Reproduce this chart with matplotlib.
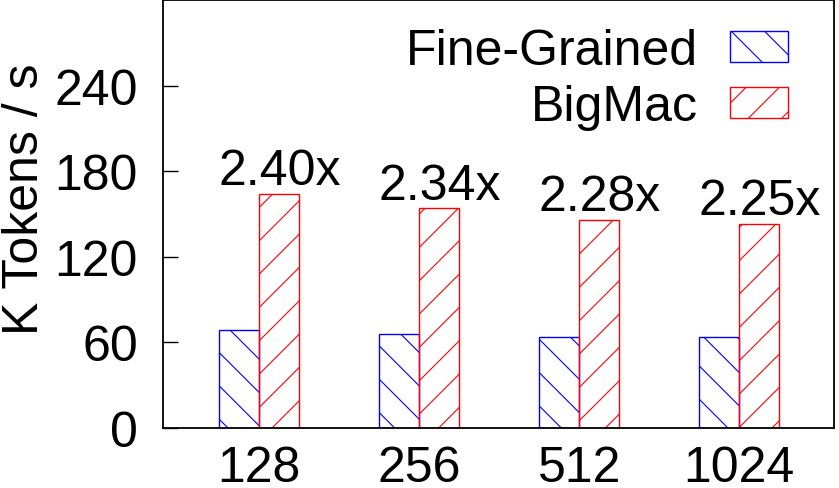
import matplotlib
matplotlib.use('Agg')
import matplotlib.pyplot as plt
import numpy as np

plt.rcParams['font.family'] = ['Liberation Sans', 'DejaVu Sans']
plt.rcParams['hatch.linewidth'] = 0.8

# data
batch_sizes = ['128', '256', '512', '1024']
fine_grained = [68.6, 65.8, 64.0, 63.6]
bigmac = [164.2, 153.9, 145.7, 143.1]
speedups = ['2.40x', '2.34x', '2.28x', '2.25x']

FS = 36

fig = plt.figure(figsize=(8.39, 4.89), dpi=100)
ax = fig.add_axes([163 / 839, 60 / 489, 671 / 839, 428 / 489])

x = np.arange(len(batch_sizes))
w = 0.25
ax.bar(x - w / 2, fine_grained, w, facecolor='none', edgecolor='#0000ff',
       hatch='\\', linewidth=1.0, label='Fine-Grained')
ax.bar(x + w / 2, bigmac, w, facecolor='none', edgecolor='#ff0000',
       hatch='/', linewidth=1.0, label='BigMac')

for xi, val, txt in zip(x, bigmac, speedups):
    ax.annotate(txt, (xi + w / 2, val), xytext=(0, 7), textcoords='offset points',
                ha='center', va='baseline', fontsize=FS)

ax.set_xlim(-0.602, 3.592)
ax.set_ylim(0, 300)
ax.set_yticks([0, 60, 120, 180, 240])
ax.set_xticks(x)
ax.set_xticklabels(batch_sizes)
ax.tick_params(axis='y', direction='in', length=11, width=1.0, pad=18, labelsize=FS)
ax.tick_params(axis='x', length=0, pad=12, labelsize=FS)
for sp in ax.spines.values():
    sp.set_linewidth(1.3)

fig.text(2 / 839, 1 - 199 / 489, 'K Tokens / s', rotation=90, fontsize=FS,
         ha='left', va='center')

ax.legend(loc='upper right', bbox_to_anchor=(1 - 46 / 671, 1 - 28 / 428),
          frameon=False, markerfirst=False, fontsize=FS, borderpad=0,
          borderaxespad=0, handlelength=1.16, handleheight=0.58,
          handletextpad=0.64, labelspacing=0.2)

fig.savefig('out.png', dpi=100)
